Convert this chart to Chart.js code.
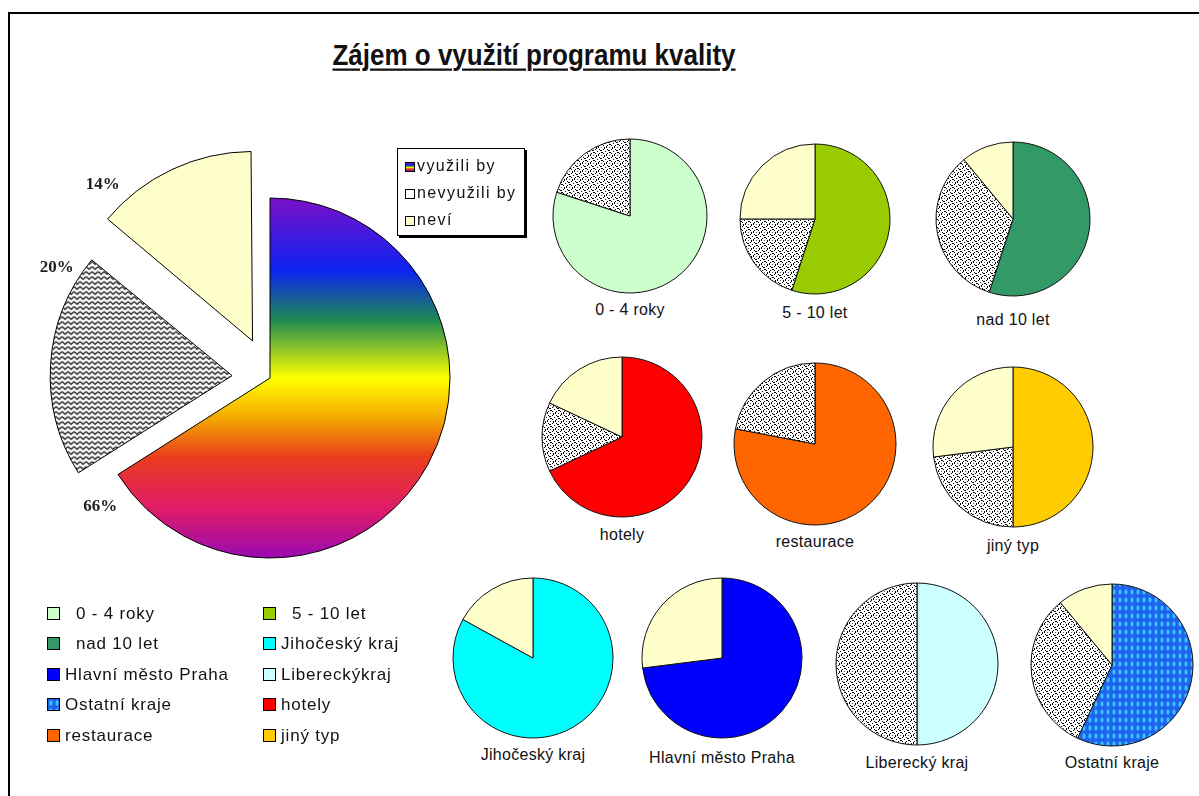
<!DOCTYPE html>
<html lang="cs">
<head>
<meta charset="utf-8">
<title>Zájem o využití programu kvality</title>
<script src="https://cdn.jsdelivr.net/npm/chart.js@4.4.1/dist/chart.umd.min.js"></script>
<style>
  html, body { margin: 0; padding: 0; }
  body { width: 1199px; height: 796px; background: #fff; position: relative; overflow: hidden;
         font-family: "Liberation Sans", Arial, sans-serif; color: #111; }
  #frame { position: absolute; left: 8px; top: 12px; width: 1300px; height: 900px;
           border-top: 2px solid #000; border-left: 2px solid #000; }
  #title { position: absolute; left: 0; width: 1068px; top: 42px; text-align: center;
           font: bold 26px "Liberation Sans", Arial, sans-serif; text-decoration: underline;
           text-underline-offset: 3px; text-decoration-thickness: 2px;
           transform: scaleY(1.12); transform-origin: 50% 100%; }
  canvas { position: absolute; }
  .pieLabel { position: absolute; width: 240px; text-align: center; font-size: 16px;
              letter-spacing: 0.3px; line-height: 18px; }
  #mainLegend { position: absolute; left: 397px; top: 148px; width: 126px; height: 86px;
                border: 1px solid #000; box-shadow: 2px 2px 0 #000; background: #fff; }
  #mainLegend .row { position: absolute; left: 7px; height: 18px; font-size: 16px;
                     letter-spacing: 1.4px; line-height: 18px; white-space: nowrap; }
  #mainLegend .mk { display: inline-block; width: 10px; height: 10px; border: 1px solid #000;
                    vertical-align: -1px; margin-right: 2px; box-sizing: border-box; }
  .lg { position: absolute; height: 20px; font-size: 17px; letter-spacing: 0.8px;
        line-height: 20px; white-space: nowrap; }
  .lg .mk { position: absolute; left: 0; top: 3px; width: 13px; height: 13px;
            border: 1px solid #000; box-sizing: border-box; }
</style>
</head>
<body>
<div id="frame"></div>
<div id="title">Zájem o využití programu kvality</div>
<canvas id="mainPie" width="460" height="460" style="left:40px;top:148px;width:460px;height:460px"></canvas>
<div id="mainLegend"></div>
<div id="pies"></div>
<div id="bottomLegend"></div>

<script>
// ---- data ----
const answers = ['využili by', 'nevyužili by', 'neví'];
const overallShares = [66, 20, 14];

const groups = ['0 - 4 roky', '5 - 10 let', 'nad 10 let', 'hotely', 'restaurace', 'jiný typ',
                'Jihočeský kraj', 'Hlavní město Praha', 'Liberecký kraj', 'Ostatní kraje'];
const wouldUse    = [80, 55, 55, 68, 78, 50, 83, 73, 50, 57];
const wouldNotUse = [20, 20, 34, 14, 22, 23,  0,  0, 50, 32];
const dontKnow    = [ 0, 25, 11, 18,  0, 27, 17, 27,  0, 11];

const legendOrder = ['0 - 4 roky', '5 - 10 let', 'nad 10 let', 'Jihočeský kraj', 'Hlavní město Praha',
                     'Liberecký kraj', 'Ostatní kraje', 'hotely', 'restaurace', 'jiný typ'];
const legendText  = ['  0 - 4 roky', '  5 - 10 let', '  nad 10 let', 'Jihočeský kraj', 'Hlavní město Praha',
                     'Libereckýkraj', 'Ostatní kraje', 'hotely', 'restaurace', 'jiný typ'];

// ---- styles ----
const groupColors = {
  '0 - 4 roky': '#ccffcc', '5 - 10 let': '#99cc00', 'nad 10 let': '#339966',
  'hotely': '#ff0000', 'restaurace': '#ff6600', 'jiný typ': '#ffcc00',
  'Jihočeský kraj': '#00ffff', 'Hlavní město Praha': '#0000ff',
  'Liberecký kraj': '#ccffff', 'Ostatní kraje': 'pattern'
};
const creamColor = '#ffffcc';

// small-pie placement: centre x, centre y, radius, label top
const pieLayout = [
  [630, 216, 77, 301], [815, 219, 75, 304], [1013, 219, 77, 311],
  [622, 437, 80, 526], [815, 444, 81, 533], [1013, 447, 80, 537],
  [533, 658, 80, 746], [722, 658, 80, 749], [917, 664, 81, 754], [1112, 665, 81, 754]
];

// ---- fill patterns ----
function tile(w, h, draw) {
  const c = document.createElement('canvas');
  c.width = w; c.height = h;
  draw(c.getContext('2d'));
  return c;
}
// wavy lines used by the large pie
const zigTile = tile(6, 5, g => {
  g.fillStyle = '#fff'; g.fillRect(0, 0, 6, 5);
  g.strokeStyle = '#000'; g.lineWidth = 1.2;
  g.beginPath(); g.moveTo(0, 1); g.lineTo(3, 3.8); g.lineTo(6, 1); g.stroke();
});
// dotted rings used by the small pies
const dotTile = tile(8, 8, g => {
  g.fillStyle = '#fff'; g.fillRect(0, 0, 8, 8);
  g.fillStyle = '#000';
  [[4,1],[6,2],[7,4],[6,6],[4,7],[2,6],[1,4],[2,2],[0,0],[5,1],[3,7],[1,3],[7,5]]
    .forEach(([x, y]) => g.fillRect(x, y, 1, 1));
  g.fillStyle = '#555'; g.fillRect(4, 4, 1, 1);
});
// blue with light ovals
const ovalTile = tile(6, 8, g => {
  g.fillStyle = '#1f62ee'; g.fillRect(0, 0, 6, 8);
  g.fillStyle = '#38c4ff';
  g.beginPath(); g.ellipse(3, 4, 1.6, 2.8, 0, 0, Math.PI * 2); g.fill();
});

// ---- large pie ----
const R = 180;
const labelPlace = [ {frac: 0.98, dist: 213}, {frac: 0.83, dist: 240}, {frac: 0.19, dist: 256} ];
const rainbowStops = [
  [0, '#7a10c6'], [0.2, '#0c22f2'], [0.34, '#1e8a50'], [0.5, '#ffff00'],
  [0.61, '#f5aa00'], [0.72, '#ea3c1e'], [0.86, '#e01c66'], [1, '#9a0ab2']
];

const pctLabels = {
  id: 'pctLabels',
  afterDatasetsDraw(chart) {
    const ctx = chart.ctx;
    const arcs = chart.getDatasetMeta(0).data;
    const values = chart.data.datasets[0].data;
    ctx.save();
    ctx.font = 'bold 17px "Liberation Serif", "Times New Roman", serif';
    ctx.fillStyle = '#222';
    ctx.textAlign = 'center';
    ctx.textBaseline = 'middle';
    arcs.forEach((arc, i) => {
      const p = labelPlace[i];
      const a = arc.startAngle + p.frac * (arc.endAngle - arc.startAngle);
      ctx.fillText(values[i] + '%', arc.x + Math.cos(a) * p.dist, arc.y + Math.sin(a) * p.dist);
    });
    ctx.restore();
  }
};

new Chart(document.getElementById('mainPie'), {
  type: 'pie',
  data: {
    labels: answers,
    datasets: [{
      data: overallShares,
      backgroundColor: c => {
        if (c.dataIndex === 1) return c.chart.ctx.createPattern(zigTile, 'repeat');
        if (c.dataIndex === 2) return creamColor;
        const a = c.chart.chartArea;
        if (!a) return '#ffff00';
        const cy = (a.top + a.bottom) / 2;
        const g = c.chart.ctx.createLinearGradient(0, cy - R, 0, cy + R);
        rainbowStops.forEach(([o, col]) => g.addColorStop(o, col));
        return g;
      },
      borderColor: '#000',
      borderWidth: 1,
      // arcs are pushed out by a quarter of this value
      offset: [0, 152, 164]
    }]
  },
  options: {
    responsive: false, animation: false, events: [],
    radius: R,
    layout: { padding: 0 },
    plugins: { legend: { display: false }, tooltip: { enabled: false } }
  },
  plugins: [pctLabels]
});

// ---- legend of the large pie ----
const mainLegend = document.getElementById('mainLegend');
const mainMarks = [
  'background:linear-gradient(to bottom,#7a10c6,#0c22f2 25%,#1e8a50 40%,#ffff00 55%,#ea3c1e 75%,#9a0ab2)',
  'background:#fff linear-gradient(45deg,transparent 42%,#000 42%,#000 58%,transparent 58%),linear-gradient(-45deg,transparent 42%,#000 42%,#000 58%,transparent 58%)',
  'background:' + creamColor
];
answers.forEach((t, i) => {
  const row = document.createElement('div');
  row.className = 'row';
  row.style.top = (8 + i * 27) + 'px';
  row.innerHTML = '<span class="mk" style="' + mainMarks[i] + '"></span>';
  row.appendChild(document.createTextNode(t));
  mainLegend.appendChild(row);
});

// ---- small pies ----
const piesDiv = document.getElementById('pies');
groups.forEach((name, i) => {
  const [cx, cy, r, ly] = pieLayout[i];
  const size = 2 * r + 8;
  const cv = document.createElement('canvas');
  cv.width = size; cv.height = size;
  cv.style.left = (cx - size / 2) + 'px';
  cv.style.top = (cy - size / 2) + 'px';
  cv.style.width = size + 'px'; cv.style.height = size + 'px';
  piesDiv.appendChild(cv);

  const lab = document.createElement('div');
  lab.className = 'pieLabel';
  lab.style.left = (cx - 120) + 'px';
  lab.style.top = ly + 'px';
  lab.textContent = name;
  piesDiv.appendChild(lab);

  const g2d = cv.getContext('2d');
  const main = groupColors[name] === 'pattern' ? g2d.createPattern(ovalTile, 'repeat') : groupColors[name];
  new Chart(cv, {
    type: 'pie',
    data: {
      labels: answers,
      datasets: [{
        data: [wouldUse[i], wouldNotUse[i], dontKnow[i]],
        backgroundColor: [main, g2d.createPattern(dotTile, 'repeat'), creamColor],
        borderColor: '#111',
        borderWidth: 1
      }]
    },
    options: {
      responsive: false, animation: false, events: [],
      radius: r,
      plugins: { legend: { display: false }, tooltip: { enabled: false } }
    }
  });
});

// ---- group legend ----
const bl = document.getElementById('bottomLegend');
const rowTops = [604, 634, 665, 695, 726];
const colLefts = [47, 263];
legendOrder.forEach((name, k) => {
  const d = document.createElement('div');
  d.className = 'lg';
  d.style.left = colLefts[k % 2] + 'px';
  d.style.top = rowTops[Math.floor(k / 2)] + 'px';
  const mk = document.createElement('span');
  mk.className = 'mk';
  if (groupColors[name] === 'pattern') {
    mk.style.background = 'url(' + ovalTile.toDataURL() + ')';
  } else {
    mk.style.background = groupColors[name];
  }
  d.appendChild(mk);
  const txt = document.createElement('span');
  txt.style.marginLeft = '18px';
  txt.style.whiteSpace = 'pre';
  txt.textContent = legendText[k];
  d.appendChild(txt);
  bl.appendChild(d);
});
</script>
</body>
</html>
